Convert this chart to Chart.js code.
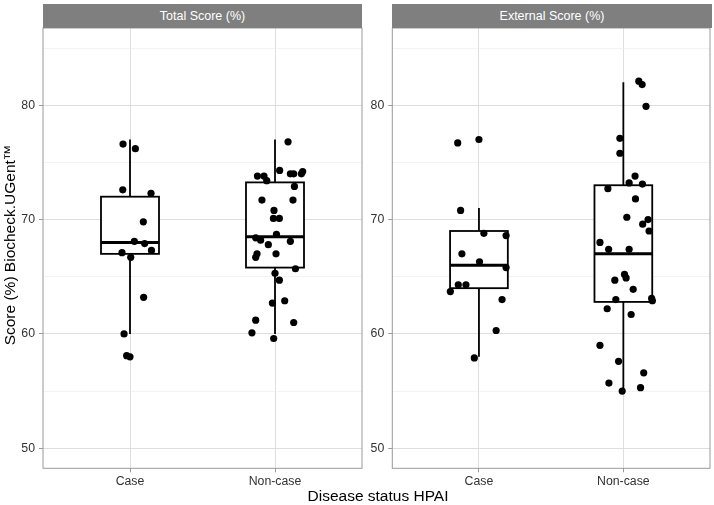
<!DOCTYPE html>
<html>
<head>
<meta charset="utf-8">
<title>Biocheck scores</title>
<script src="https://cdn.jsdelivr.net/npm/chart.js@4.4.1/dist/chart.umd.min.js"></script>
<style>
  body { margin: 0; width: 714px; height: 505px; position: relative; overflow: hidden; background: #fff;
         font-family: "Liberation Sans", Arial, sans-serif; }
  canvas { position: absolute; top: 0; }
  #panelA { left: 0; }
  #panelB { left: 366px; }
  .strip { position: absolute; top: 4px; height: 24px; line-height: 24px; background: #7f7f7f; color: #fff;
           font-size: 12.5px; text-align: center; }
  .ytitle { position: absolute; left: -140px; top: 235px; width: 300px; height: 20px; line-height: 20px;
            font-size: 15.5px; text-align: center; transform: rotate(-90deg); color: #000; }
  .xtitle { position: absolute; left: 228px; top: 487px; width: 300px; height: 18px; line-height: 18px;
            font-size: 15.5px; text-align: center; color: #000; }
</style>
</head>
<body>
<canvas id="panelA" width="366" height="505"></canvas>
<canvas id="panelB" width="348" height="505"></canvas>
<div class="strip" style="left:43px;width:319px">Total Score (%)</div>
<div class="strip" style="left:392px;width:320px">External Score (%)</div>
<div class="ytitle">Score (%) Biocheck.UGent™</div>
<div class="xtitle">Disease status HPAI</div>
<script>
const categories = ['Case', 'Non-case'];
const yTicks = [50, 60, 70, 80];

// Total score, points (value) and their horizontal jitter (category units)
const totalCase = [76.6, 76.2, 72.6, 72.3, 69.8, 68.1, 67.9, 67.1, 67.3, 66.7, 63.2, 60.0, 58.1, 58.0];
const totalCaseJitter = [-0.048, 0.037, -0.05, 0.145, 0.092, 0.03, 0.101, -0.055, 0.148, 0.005, 0.094, -0.041, -0.023, 0.0];
const totalNonCase = [76.8, 74.3, 74.0, 74.0, 74.2, 74.0, 73.8, 73.8, 73.4, 72.9, 71.7, 71.7, 70.8, 70.1, 70.1, 68.7,
                      68.4, 68.2, 68.1, 67.8, 67.0, 67.0, 66.7, 65.3, 65.7, 64.7, 62.7, 62.9, 61.2, 61.0, 60.1, 59.6];
const totalNonCaseJitter = [0.09, 0.032, 0.106, 0.129, 0.191, 0.182, -0.121, -0.076, -0.057, 0.134, -0.09, 0.124, -0.007, -0.011, 0.03, 0.01,
                            -0.133, -0.099, 0.106, -0.046, -0.124, 0.007, -0.133, 0.0, 0.141, 0.03, -0.018, 0.067, -0.133, 0.129, -0.159, -0.009];

// External score
const externalCase = [77.0, 76.7, 70.8, 68.8, 68.6, 67.0, 66.3, 65.8, 64.3, 64.3, 63.7, 63.0, 60.3, 57.9];
const externalCaseJitter = [0.0, -0.147, -0.127, 0.034, 0.188, -0.118, 0.004, 0.188, -0.143, -0.09, -0.198, 0.16, 0.119, -0.032];
const externalNonCase = [82.1, 81.8, 79.9, 77.1, 75.8, 73.8, 73.2, 73.1, 72.7, 71.8, 70.2, 70.0, 69.6, 69.0, 68.0, 67.4,
                         67.4, 65.2, 64.9, 64.7, 63.9, 63.0, 63.1, 62.9, 62.2, 61.7, 59.0, 57.6, 56.6, 55.7, 55.0, 55.3];
const externalNonCaseJitter = [0.107, 0.13, 0.157, -0.024, -0.024, 0.081, 0.04, 0.132, -0.107, 0.084, 0.024, 0.171, 0.134, 0.178, -0.162, -0.102,
                               0.04, 0.008, 0.019, -0.059, 0.068, -0.052, 0.196, 0.201, -0.112, 0.054, -0.162, -0.033, 0.141, -0.1, -0.008, 0.119];

// box stats per category: [lower whisker, Q1, median, Q3, upper whisker]
const totalBoxes = [[60, 67, 68, 72, 77], [60, 65.8, 68.5, 73.25, 77]];
const externalBoxes = [[58, 64, 66, 69, 71], [55, 62.8, 67, 73, 82]];

Chart.defaults.font.family = '"Liberation Sans", Arial, sans-serif';
Chart.defaults.font.size = 12.3;
Chart.defaults.color = '#333';

const boxHalf = 0.2;

const boxPlugin = {
    id: 'boxes',
    beforeDatasetsDraw(chart, args, opts) {
        const ctx = chart.ctx;
        const xs = chart.scales.x, ys = chart.scales.y;
        opts.stats.forEach((s, i) => {
            const cx = xs.getPixelForValue(i + 1);
            const left = xs.getPixelForValue(i + 1 - boxHalf);
            const right = xs.getPixelForValue(i + 1 + boxHalf);
            const [lo, q1, med, q3, hi] = s.map(v => ys.getPixelForValue(v));
            ctx.save();
            ctx.strokeStyle = '#000';
            ctx.lineWidth = 1.8;
            ctx.beginPath();
            ctx.moveTo(cx, q3); ctx.lineTo(cx, hi);
            ctx.moveTo(cx, q1); ctx.lineTo(cx, lo);
            ctx.stroke();
            ctx.fillStyle = '#fff';
            ctx.fillRect(left, q3, right - left, q1 - q3);
            ctx.strokeRect(left, q3, right - left, q1 - q3);
            ctx.lineWidth = 3;
            ctx.beginPath();
            ctx.moveTo(left, med); ctx.lineTo(right, med);
            ctx.stroke();
            ctx.restore();
        });
    }
};

const borderPlugin = {
    id: 'panelBorder',
    afterDraw(chart) {
        const a = chart.chartArea, ctx = chart.ctx;
        ctx.save();
        ctx.strokeStyle = '#9a9a9a';
        ctx.lineWidth = 1;
        ctx.strokeRect(a.left, a.top, a.right - a.left, a.bottom - a.top);
        ctx.restore();
    }
};

function pts(vals, jit, cat) {
    return vals.map((v, i) => ({ x: cat + jit[i], y: v }));
}

function makePanel(id, boxes, caseVals, caseJit, nonVals, nonJit, yWidth, padRight) {
    new Chart(document.getElementById(id), {
        type: 'scatter',
        data: {
            datasets: [{
                data: pts(caseVals, caseJit, 1).concat(pts(nonVals, nonJit, 2)),
                backgroundColor: '#000',
                borderWidth: 0,
                pointRadius: 3.6
            }]
        },
        options: {
            responsive: false,
            animation: false,
            layout: { padding: { top: 28, right: padRight, left: 0, bottom: 0 } },
            scales: {
                x: {
                    type: 'linear',
                    min: 0.4,
                    max: 2.6,
                    afterBuildTicks: s => { s.ticks = categories.map((c, i) => ({ value: i + 1 })); },
                    afterFit: s => { s.height = 36.7; },
                    ticks: { callback: v => categories[v - 1], padding: 2, color: '#333', maxRotation: 0 },
                    grid: { color: '#dedede', lineWidth: 1, tickLength: 4, tickColor: '#9a9a9a' },
                    border: { display: false }
                },
                y: {
                    min: 48.25,
                    max: 86.75,
                    afterFit: s => { s.width = yWidth; },
                    ticks: {
                        stepSize: 5,
                        includeBounds: false,
                        padding: 4,
                        color: '#333',
                        callback: v => yTicks.includes(v) ? v : ''
                    },
                    grid: {
                        color: c => c.tick && yTicks.includes(c.tick.value) ? '#dedede' : '#ebebeb',
                        lineWidth: c => c.tick && yTicks.includes(c.tick.value) ? 1 : 0.6,
                        tickLength: 4,
                        tickColor: c => c.tick && yTicks.includes(c.tick.value) ? '#9a9a9a' : 'rgba(0,0,0,0)'
                    },
                    border: { display: false }
                }
            },
            plugins: {
                legend: { display: false },
                tooltip: { enabled: false },
                boxes: { stats: boxes }
            }
        },
        plugins: [boxPlugin, borderPlugin]
    });
}

makePanel('panelA', totalBoxes, totalCase, totalCaseJitter, totalNonCase, totalNonCaseJitter, 43, 4);
makePanel('panelB', externalBoxes, externalCase, externalCaseJitter, externalNonCase, externalNonCaseJitter, 26.3, 2.3);
</script>
</body>
</html>
